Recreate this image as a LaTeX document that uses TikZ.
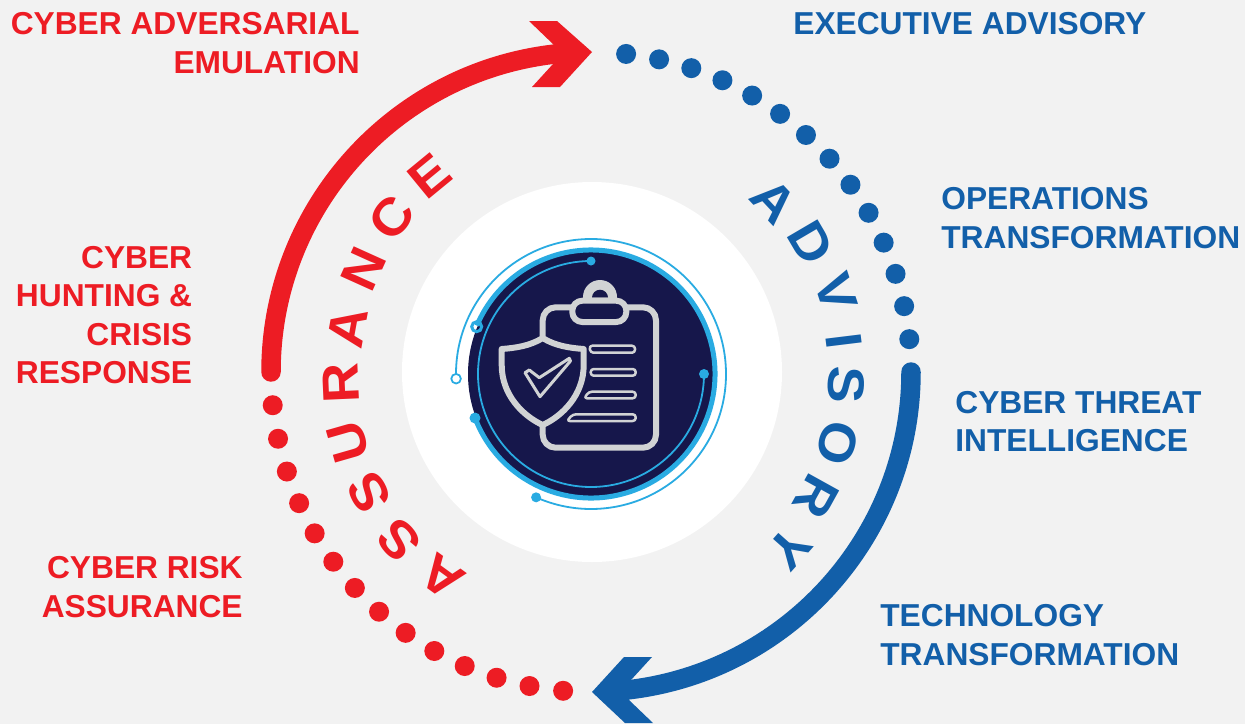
\documentclass[tikz,border=0pt]{standalone}
\usepackage{fontspec}
\setmainfont{Liberation Sans}
\newfontfamily\ringfont[FakeStretch=1.08]{Liberation Sans}
\usetikzlibrary{calc}
\definecolor{myred}{HTML}{ED1C24}
\definecolor{myblue}{HTML}{125FA9}
\definecolor{mynavy}{HTML}{16174B}
\definecolor{mysky}{HTML}{29ABE2}
\definecolor{mygrey}{HTML}{D1D3D4}
\definecolor{mybg}{HTML}{F2F2F2}
\tikzset{
	redlabel/.style={text=myred,font=\fontsize{18.05}{22}\selectfont\bfseries,align=right,anchor=north east,inner sep=0pt},
	bluelabel/.style={text=myblue,font=\fontsize{18.05}{22}\selectfont\bfseries,align=left,anchor=north west,inner sep=0pt},
	ringletter/.style={font=\fontsize{29.3}{30}\ringfont\bfseries,inner sep=0pt},
	iconline/.style={draw=mygrey,line width=0.12cm,line join=round},
	textline/.style={draw=mygrey,line width=0.05cm,rounded corners=0.06cm,line join=round}
}
\begin{document}
\begin{tikzpicture}[x=0.02cm,y=-0.02cm]
	\useasboundingbox[fill=mybg] (0,0) rectangle (1245,724);
	\coordinate (C) at (591,372);
	\coordinate (I) at (591,374);

	\fill[white] (592,372) circle (190);

	\draw[myred,line width=0.39cm,line cap=round] ($(C)+(180:320)$) arc[start angle=180,end angle=264,radius=320];
	\fill[myred] (592,52) -- (557,21) -- (529,21) -- (554,45) -- (553,64) -- (532,87) -- (560,87) -- cycle;
	\draw[myblue,line width=0.39cm,line cap=round] ($(C)+(0:320)$) arc[start angle=0,end angle=84,radius=320];
	\fill[myblue] (592,692) -- (624,657) -- (652,657) -- (631,680) -- (629,700) -- (653,723) -- (625,723) -- cycle;

	\foreach \i in {0,...,13} {
		\fill[myblue] ($(C)+({-83.7+\i*5.985}:320)$) circle (10);
		\fill[myred] ($(C)+({95+\i*6.08}:320)$) circle (10);
	}

	\foreach \l/\a/\r in {A/43/250,D/30.4/255,V/18/258,I/7/255,S/-2.9/256,O/-16/257,R/-29/258,Y/-41.6/265} {
		\node[ringletter,text=myblue,rotate=\a-90] (adv\l) at ($(C)+({-1*\a}:\r)$) {\l};
	}
	\foreach \l/\a/\r [count=\n] in {A/234/253,S/221.2/255,S/208.6/253,U/196/253,R/182.5/250,A/169.7/247,N/155.7/250,C/142.3/252,E/129.4/254} {
		\node[ringletter,text=myred,rotate=\a-90] (ass\n) at ($(C)+({-1*\a}:\r)$) {\l};
	}

	\fill[mynavy] (I) circle (123);
	\draw[mysky,line width=0.1cm] ($(I)+(-201:124)$) arc[start angle=-201,end angle=-517,radius=124];
	\draw[mysky,line width=0.036cm] ($(I)+(-90:113)$) coordinate (inA) arc[start angle=-90,end angle=-360,radius=113] coordinate (inB);
	\draw[mysky,line width=0.036cm] ($(I)+(-182:135)$) coordinate (outA) arc[start angle=-182,end angle=114,radius=135] coordinate (outB);
	\fill[mysky] (inA) circle (4.5);
	\fill[mysky] (inB) circle (5);
	\fill[mysky] (outB) circle (5);
	\fill[mysky] (475,418) circle (5.5);
	\filldraw[draw=mysky,fill=white,line width=0.035cm] (outA) circle (4.8);
	\draw[mysky,line width=0.06cm] (476.7,326.7) circle (5);

	\fill[mygrey] (583,303) -- (583,297) arc[start angle=180,end angle=360,radius=17] -- (617,303) -- cycle;
	\fill[mynavy] (592,297.7) arc[start angle=180,end angle=360,radius=8] -- cycle;
	\draw[iconline,rounded corners=0.26cm] (542.7,336) -- (542.7,307.3) -- (574,307.3);
	\draw[iconline,rounded corners=0.26cm] (624,307.3) -- (656,307.3) -- (656,447.7) -- (542.7,447.7) -- (542.7,424);
	\filldraw[iconline,fill=mynavy,rounded corners=0.2cm] (572.3,300.7) rectangle (626.3,322);
	\filldraw[iconline,fill=mynavy] (542.7,338) .. controls (530,346) and (515,348) .. (501.7,349) -- (501.7,365)
		.. controls (501.7,395) and (523,416) .. (542.7,425)
		.. controls (562.4,416) and (583.7,395) .. (583.7,365) -- (583.7,349)
		.. controls (570.4,348) and (555.4,346) .. (542.7,338) -- cycle;
	\draw[draw=mygrey,line width=0.06cm,line join=round] (525,372.7) -- (529.3,370) -- (539.3,377.7) -- (569.3,358.3) -- (570.5,361) -- (540,396.7) -- cycle;
	\draw[textline] (589.3,345.7) -- (635,345.7) -- (635,352.7) -- (590.5,352.7) -- cycle;
	\draw[textline] (590.7,369) -- (635.7,369) -- (635.7,375.7) -- (590.7,375.7) -- cycle;
	\draw[textline] (589,391.7) -- (635.7,391.7) -- (635.7,398.3) -- (584,398.3) -- cycle;
	\draw[textline] (573,414.3) -- (635.7,414.3) -- (635.7,421) -- (566.7,421) -- cycle;

	\node[redlabel] (emulation) at (360,12.5) {CYBER ADVERSARIAL\\EMULATION};
	\node[redlabel] (hunting) at (192.5,245.5) {CYBER\\HUNTING \&\\CRISIS\\RESPONSE};
	\node[redlabel] (risk) at (243,556) {CYBER RISK\\ASSURANCE};
	\node[bluelabel] (executive) at (793,12) {EXECUTIVE ADVISORY};
	\node[bluelabel] (operations) at (941,187.5) {OPERATIONS\\TRANSFORMATION};
	\node[bluelabel] (threat) at (955,390.5) {CYBER THREAT\\INTELLIGENCE};
	\node[bluelabel] (technology) at (880,604) {TECHNOLOGY\\TRANSFORMATION};
\end{tikzpicture}
\end{document}
